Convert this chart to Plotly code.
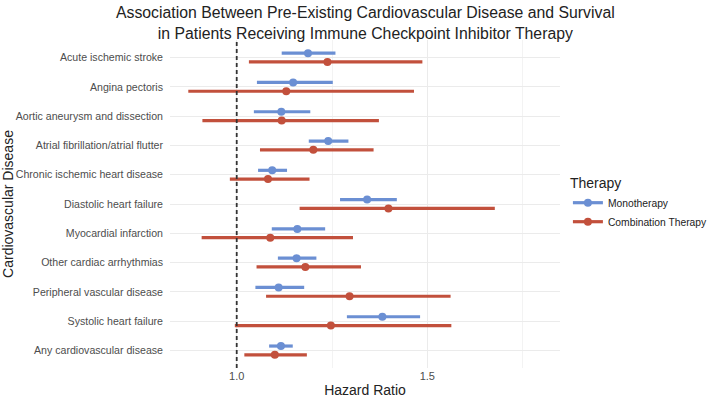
import numpy as np
import plotly.graph_objects as go

categories = [
    "Acute ischemic stroke",
    "Angina pectoris",
    "Aortic aneurysm and dissection",
    "Atrial fibrillation/atrial flutter",
    "Chronic ischemic heart disease",
    "Diastolic heart failure",
    "Myocardial infarction",
    "Other cardiac arrhythmias",
    "Peripheral vascular disease",
    "Systolic heart failure",
    "Any cardiovascular disease",
]
mono_hr = [1.187, 1.148, 1.117, 1.240, 1.093, 1.342, 1.159, 1.157, 1.110, 1.382, 1.116]
mono_lo = [1.118, 1.053, 1.045, 1.189, 1.056, 1.271, 1.092, 1.108, 1.049, 1.289, 1.085]
mono_hi = [1.259, 1.252, 1.193, 1.293, 1.132, 1.420, 1.232, 1.209, 1.177, 1.481, 1.147]
combo_hr = [1.238, 1.130, 1.118, 1.201, 1.082, 1.398, 1.088, 1.180, 1.296, 1.247, 1.100]
combo_lo = [1.032, 0.873, 0.910, 1.061, 0.982, 1.165, 0.908, 1.052, 1.077, 0.995, 1.020]
combo_hi = [1.487, 1.465, 1.373, 1.359, 1.191, 1.677, 1.305, 1.326, 1.561, 1.563, 1.184]
x_ticks = [1.0, 1.5]
x_tick_labels = ["1.0", "1.5"]

BLUE = "#6B8FD3"
RED = "#C2503C"
FONT = "Liberation Sans, Arial, sans-serif"
TITLE = ("Association Between Pre-Existing Cardiovascular Disease and Survival"
         "<br>in Patients Receiving Immune Checkpoint Inhibitor Therapy")

idx = np.arange(len(categories))
fig = go.Figure()

def add_series(hr, lo, hi, offset, color, name):
    hr = np.array(hr); lo = np.array(lo); hi = np.array(hi)
    fig.add_trace(go.Scatter(
        x=hr, y=idx + offset, mode="markers",
        marker=dict(color=color, size=8),
        error_x=dict(type="data", symmetric=False, array=hi - hr, arrayminus=hr - lo,
                     thickness=3.2, width=0, color=color),
        showlegend=False, hoverinfo="skip",
    ))
    fig.add_trace(go.Scatter(
        x=[None], y=[None], mode="lines+markers", name=name,
        line=dict(color=color, width=3.2), marker=dict(color=color, size=8),
    ))

add_series(mono_hr, mono_lo, mono_hi, -0.15, BLUE, "Monotherapy")
add_series(combo_hr, combo_lo, combo_hi, 0.15, RED, "Combination Therapy")

fig.add_vline(x=1.0, line=dict(color="#333333", width=1.8, dash="4px,3px"))

fig.add_annotation(
    text=TITLE, xref="paper", yref="paper", x=0.5, y=1.117, xanchor="center", yanchor="top",
    showarrow=False, align="center",
    font=dict(size=15.8, family=FONT, color="#222222"),
)

fig.update_layout(
    width=709, height=400,
    margin=dict(l=170, r=149, t=40, b=32),
    paper_bgcolor="white", plot_bgcolor="white",
    font=dict(family=FONT, color="#222222"),
    xaxis=dict(
        range=[0.825, 1.848], tickvals=x_ticks, ticktext=x_tick_labels,
        showgrid=True, gridcolor="#EBEBEB", gridwidth=1.2, zeroline=False,
        showline=False, ticks="", tickfont=dict(size=11, color="#4D4D4D"),
        minor=dict(dtick=0.25, tick0=0, showgrid=True, gridcolor="#F3F3F3", gridwidth=0.8),
        title=dict(text="Hazard Ratio", font=dict(size=14, color="#222222"), standoff=4),
        automargin=False,
    ),
    yaxis=dict(
        range=[10.6, -0.6], tickvals=idx, ticktext=categories,
        showgrid=True, gridcolor="#EBEBEB", gridwidth=1.2, zeroline=False,
        showline=False, ticks="", ticklabelstandoff=6,
        tickfont=dict(size=10.6, color="#4D4D4D"),
        title=dict(text="Cardiovascular Disease", font=dict(size=14, color="#222222"), standoff=6),
        automargin=False,
    ),
    legend=dict(
        xref="container", yref="container",
        x=0.801, xanchor="left", y=0.575, yanchor="top",
        title=dict(text="Therapy", font=dict(size=14, color="#222222")),
        font=dict(size=10.3, color="#222222"),
        itemwidth=30, tracegroupgap=4,
    ),
)

fig.write_html("out.html")
